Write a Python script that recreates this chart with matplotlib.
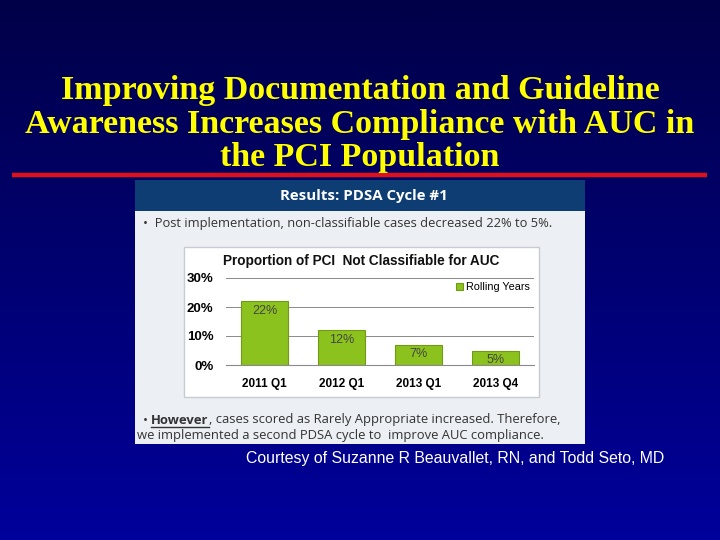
import matplotlib
matplotlib.use('Agg')
import matplotlib.pyplot as plt
import matplotlib.patches as mpatches
import numpy as np

# chart data
quarters = ["2011 Q1", "2012 Q1", "2013 Q1", "2013 Q4"]
pct_not_classifiable = [22, 12, 7, 5]
yticks = [0, 10, 20, 30]
series_name = "Rolling Years"

title_lines = ["Improving Documentation and Guideline",
               "Awareness Increases Compliance with AUC in",
               "the PCI Population"]

W, H = 720, 540


def fx(x):
    return x / W


def fy(y):
    return 1 - y / H


fig = plt.figure(figsize=(7.2, 5.4), dpi=100)

# slide background, dark navy to blue
bg = fig.add_axes([0, 0, 1, 1])
grad = np.linspace(0, 1, 256).reshape(-1, 1)
top = np.array([0, 0, 72]) / 255
bot = np.array([0, 0, 155]) / 255
img = top + (bot - top) * grad[:, :, None]
bg.imshow(img, aspect='auto', extent=[0, 1, 0, 1], origin='upper')
bg.set_xlim(0, 1)
bg.set_ylim(0, 1)
bg.axis('off')

# title
for i, line in enumerate(title_lines):
    fig.text(0.5, fy(90 + 34 * i), line, ha='center', va='center',
             color='#ffff00', fontsize=24.5, fontweight='bold',
             family='Liberation Serif')

# red rule
bg.plot([fx(12), fx(707)], [fy(175), fy(175)], color='#e0101a', lw=3.2,
        solid_capstyle='butt')

# inset panel
bg.add_patch(mpatches.Rectangle((fx(135), fy(444)), fx(450), (444 - 180) / H,
                                facecolor='#eceff3', edgecolor='none'))
bg.add_patch(mpatches.Rectangle((fx(135), fy(211)), fx(450), (211 - 180) / H,
                                facecolor='#0d3d73', edgecolor='none'))
fig.text(fx(364), fy(196), "Results: PDSA Cycle #1", ha='center', va='center',
         color='white', fontsize=10.8, fontweight='bold', family='Open Sans')
fig.text(fx(143), fy(224), "\u2022  Post implementation, non-classifiable cases decreased 22% to 5%.",
         ha='left', va='center', color='#333333', fontsize=9.3, family='Open Sans')

# white chart box
bg.add_patch(mpatches.Rectangle((fx(184), fy(397)), fx(355), (397 - 247) / H,
                                facecolor='white', edgecolor='#c8ccd2', lw=1))
fig.text(fx(223), fy(261), "Proportion of PCI  Not Classifiable for AUC",
         ha='left', va='center', color='#111111', fontsize=9.8,
         fontweight='bold', family='Liberation Sans')

ax = fig.add_axes([fx(226), fy(365), fx(534 - 226), (365 - 278) / H])
x = np.arange(len(quarters))
bars = ax.bar(x, pct_not_classifiable, width=0.6, color='#8cc21e',
              edgecolor='#6e9a14', linewidth=0.8, label=series_name)
for b, v in zip(bars, pct_not_classifiable):
    ax.text(b.get_x() + b.get_width() / 2, v - 1.2, f"{v}%", ha='center',
            va='top', fontsize=9, color='#444444', family='Liberation Sans')
ax.set_xlim(-0.5, len(quarters) - 0.5)
ax.set_ylim(0, 30)
ax.set_yticks(yticks)
ax.set_yticklabels([f"{t}%" for t in yticks], fontweight='bold',
                   fontsize=9.5, family='Liberation Sans')
ax.set_xticks(x)
ax.set_xticklabels(quarters, fontweight='bold', fontsize=8.5,
                   family='Liberation Sans')
ax.tick_params(length=0, pad=9)
ax.tick_params(axis='y', pad=9)
ax.grid(axis='y', color='#8a8a8a', lw=0.7)
ax.set_axisbelow(True)
for s in ['top', 'right', 'left']:
    ax.spines[s].set_visible(False)
ax.spines['bottom'].set_color('#8a8a8a')
ax.plot([1, 1], [0, 1], transform=ax.transAxes, color='#8a8a8a', lw=0.7)
leg = ax.legend(loc='upper right', frameon=False,
                handlelength=0.6, handleheight=0.6, handletextpad=0.3,
                borderaxespad=0.0, prop={'family': 'Liberation Sans', 'size': 7.8})
ax.set_facecolor('white')

# bottom bullet with underlined "However"
fig.canvas.draw()
r = fig.canvas.get_renderer()
t1 = fig.text(fx(143), fy(420), "\u2022 ", ha='left', va='center',
              color='#333333', fontsize=9.4, family='Open Sans')
fig.canvas.draw()
e1 = t1.get_window_extent(r)
t2 = fig.text(e1.x1 / W, fy(420), "However", ha='left', va='center',
              color='#333333', fontsize=9.4, fontweight='bold', family='Open Sans')
fig.canvas.draw()
e2 = t2.get_window_extent(r)
fig.text(e2.x1 / W, fy(420), ", cases scored as Rarely Appropriate increased. Therefore,",
         ha='left', va='center', color='#333333', fontsize=9.4, family='Open Sans')
bg.plot([e2.x0 / W, e2.x1 / W], [fy(427), fy(427)], color='#333333', lw=1)
fig.text(fx(137), fy(436), "we implemented a second PDSA cycle to  improve AUC compliance.",
         ha='left', va='center', color='#333333', fontsize=9.4, family='Open Sans')

# credit line
fig.text(fx(246), fy(459), "Courtesy of Suzanne R Beauvallet, RN, and Todd Seto, MD",
         ha='left', va='center', color='white', fontsize=11.4,
         family='Liberation Sans')

fig.savefig('out.png', dpi=100)
